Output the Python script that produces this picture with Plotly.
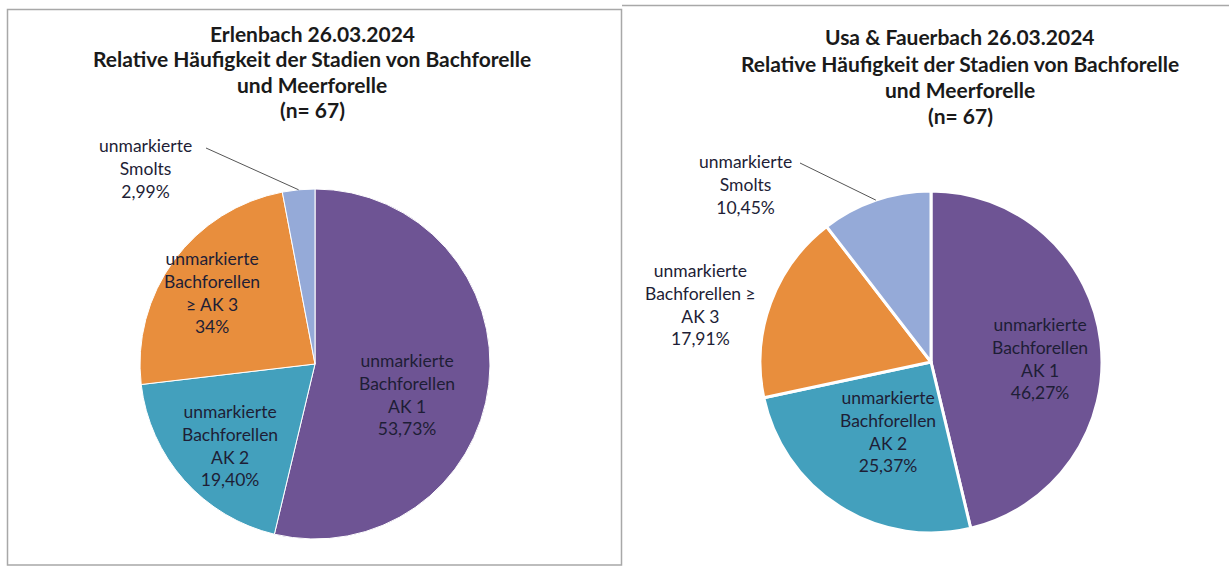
import math
import plotly.graph_objects as go

W, H = 1229, 570

categories = ["unmarkierte Bachforellen AK 1", "unmarkierte Bachforellen AK 2",
              "unmarkierte Bachforellen ≥ AK 3", "unmarkierte Smolts"]
colors = ["#6E5494", "#43A0BD", "#E88E3D", "#95AAD8"]

left_values = [53.73, 19.40, 23.88, 2.99]
left_labels = ["unmarkierte<br>Bachforellen<br>AK 1<br>53,73%",
               "unmarkierte<br>Bachforellen<br>AK 2<br>19,40%",
               "unmarkierte<br>Bachforellen<br>≥ AK 3<br>34%",
               "unmarkierte<br>Smolts<br>2,99%"]
left_title = ["Erlenbach 26.03.2024",
              "Relative Häufigkeit der Stadien von Bachforelle",
              "und Meerforelle", "(n= 67)"]

right_values = [46.27, 25.37, 17.91, 10.45]
right_labels = ["unmarkierte<br>Bachforellen<br>AK 1<br>46,27%",
                "unmarkierte<br>Bachforellen<br>AK 2<br>25,37%",
                "unmarkierte<br>Bachforellen ≥<br>AK 3<br>17,91%",
                "unmarkierte<br>Smolts<br>10,45%"]
right_title = ["Usa & Fauerbach 26.03.2024",
               "Relative Häufigkeit der Stadien von Bachforelle",
               "und Meerforelle", "(n= 67)"]

FONT = "Lato"
TXT = "#1E1E36"


def px_x(x):
    return x / W


def px_y(y):
    return 1 - y / H


fig = go.Figure()

# pie geometry in pixels: centre x, centre y, radius
LEFT_PIE = (315, 364, 175)
RIGHT_PIE = (931, 362, 171)

for vals, (cx, cy, r), lw in [(left_values, LEFT_PIE, 1), (right_values, RIGHT_PIE, 3)]:
    fig.add_trace(go.Pie(
        labels=categories, values=vals,
        textinfo="none",
        marker=dict(colors=colors, line=dict(color="white", width=lw)),
        sort=False, direction="clockwise", rotation=0,
        domain=dict(x=[px_x(cx - r), px_x(cx + r)], y=[px_y(cy + r), px_y(cy - r)]),
        showlegend=False, hoverinfo="label+percent",
    ))

annotations = []
shapes = []


def add_title(lines, cx, ys):
    for line, y in zip(lines, ys):
        annotations.append(dict(
            text="<b>%s</b>" % line, x=px_x(cx), y=px_y(y), xref="paper", yref="paper",
            showarrow=False, xanchor="center", yanchor="middle",
            font=dict(family=FONT, size=21, color="#1a1a1a")))


add_title(left_title, 312, [34, 59, 84, 110])
add_title(right_title, 960, [37, 63, 89, 116])


def add_label(text, x, y):
    annotations.append(dict(text=text, x=px_x(x), y=px_y(y), xref="paper", yref="paper",
                            showarrow=False, font=dict(family=FONT, size=17.5, color=TXT),
                            xanchor="center", yanchor="middle"))


def slice_mid(vals, idx, cx, cy, r):
    before = sum(vals[:idx])
    mid = (before + vals[idx] / 2) / sum(vals) * 2 * math.pi
    return cx + r * math.sin(mid), cy - r * math.cos(mid)


# label positions (pixels)
left_pos = [(407, 394), (230, 445), (212, 292), (145, 168)]
right_pos = [(1040, 358), (888, 431), (700, 304), (745, 184)]
for t, (x, y) in zip(left_labels, left_pos):
    add_label(t, x, y)
for t, (x, y) in zip(right_labels, right_pos):
    add_label(t, x, y)

# leader lines for smolts
ex, ey = slice_mid(left_values, 3, *LEFT_PIE)
shapes.append(dict(type="line", xref="paper", yref="paper", x0=px_x(206), y0=px_y(148),
                   x1=px_x(ex), y1=px_y(ey), line=dict(color="#555555", width=1)))
ex, ey = slice_mid(right_values, 3, *RIGHT_PIE)
shapes.append(dict(type="line", xref="paper", yref="paper", x0=px_x(800), y0=px_y(163),
                   x1=px_x(ex), y1=px_y(ey), line=dict(color="#555555", width=1)))

# panel borders
shapes.append(dict(type="rect", xref="paper", yref="paper", x0=px_x(7.5), x1=px_x(621.5),
                   y0=px_y(565), y1=px_y(9.5), line=dict(color="#A8A8A8", width=1.5)))
shapes.append(dict(type="line", xref="paper", yref="paper", x0=px_x(622), x1=px_x(1229),
                   y0=px_y(5.5), y1=px_y(5.5), line=dict(color="#A8A8A8", width=1.5)))

fig.update_layout(
    width=W, height=H, margin=dict(l=0, r=0, t=0, b=0),
    paper_bgcolor="white", plot_bgcolor="white",
    annotations=annotations, shapes=shapes,
    font=dict(family=FONT),
)
fig.write_html("out.html", config={"displayModeBar": False},
               post_script="document.body.style.margin='0';document.body.style.overflow='hidden';")
